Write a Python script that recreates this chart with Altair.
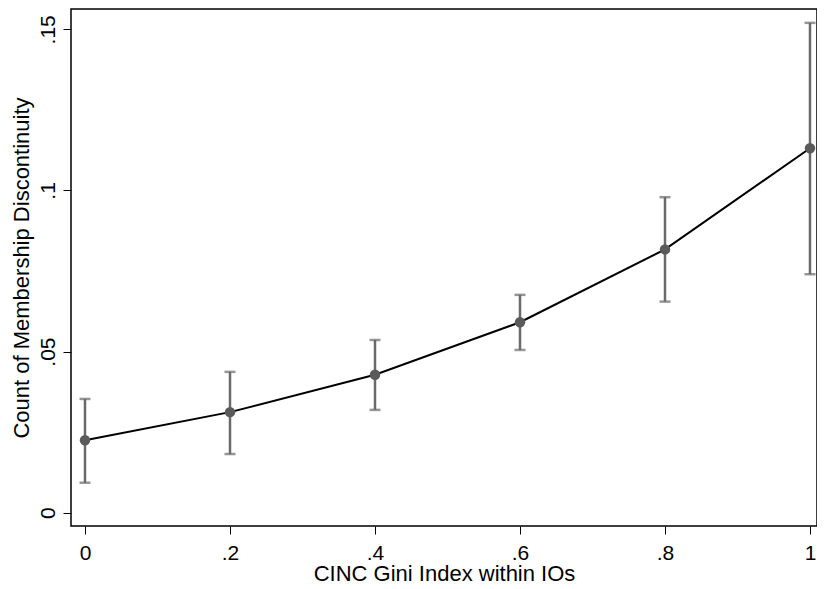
import altair as alt
import pandas as pd

gini = [0.0, 0.2, 0.4, 0.6, 0.8, 1.0]
count = [0.0225, 0.0312, 0.0428, 0.0591, 0.0817, 0.1131]
lower = [0.0093, 0.0182, 0.0319, 0.0505, 0.0655, 0.0740]
upper = [0.0353, 0.0437, 0.0536, 0.0676, 0.0979, 0.1520]

x_ticks = [0, 0.2, 0.4, 0.6, 0.8, 1.0]
y_ticks = [0, 0.05, 0.1, 0.15]

df = pd.DataFrame({"gini": gini, "count": count, "lo": lower, "hi": upper})

FONT = "Liberation Sans"
lab = "datum.value == 0 ? '0' : datum.value == 1 ? '1' : substring(format(datum.value, '.2~f'), 1)"

xscale = alt.Scale(domain=[-0.01931, 1.00966], nice=False, zero=False)
yscale = alt.Scale(domain=[-0.00413, 0.1563], nice=False, zero=False)

xenc = alt.X("gini:Q", scale=xscale, title="CINC Gini Index within IOs",
             axis=alt.Axis(values=x_ticks, labelExpr=lab, grid=False, domain=False,
                           tickSize=8, tickColor="#000000", tickWidth=1,
                           labelFont=FONT, labelFontSize=21, labelColor="#000000",
                           labelBaseline="alphabetic", labelPadding=25,
                           titleFont=FONT, titleFontSize=22, titleFontWeight="normal",
                           titleColor="#000000", titleBaseline="alphabetic", titleY=54))
yenc = alt.Y("count:Q", scale=yscale, title="Count of Membership Discontinuity",
             axis=alt.Axis(values=y_ticks, labelExpr=lab, grid=False, domain=False,
                           tickSize=8, tickColor="#000000", tickWidth=1,
                           labelAngle=270, labelAlign="center", labelBaseline="alphabetic",
                           labelFont=FONT, labelFontSize=21, labelColor="#000000",
                           labelPadding=9, titleFont=FONT, titleFontSize=22,
                           titleFontWeight="normal", titleColor="#000000",
                           titleBaseline="alphabetic", titleX=-43))

base = alt.Chart(df)

bars = base.mark_rule(color="#6a6a6a", strokeWidth=2.5).encode(
    x=xenc, y=alt.Y("lo:Q", scale=yscale), y2="hi:Q")
cap_lo = base.mark_tick(color="#6a6a6a", thickness=2.5, size=11, orient="horizontal").encode(
    x="gini:Q", y="lo:Q")
cap_hi = base.mark_tick(color="#6a6a6a", thickness=2.5, size=11, orient="horizontal").encode(
    x="gini:Q", y="hi:Q")
line = base.mark_line(color="#000000", strokeWidth=2).encode(x="gini:Q", y=yenc)
pts = base.mark_circle(color="#5a5a5a", opacity=1, size=110).encode(x="gini:Q", y="count:Q")

chart = alt.layer(bars, cap_lo, cap_hi, line, pts).properties(
    width=746, height=517,
    autosize=alt.AutoSizeParams(type="none"),
    padding={"left": 63, "top": 1, "right": 0, "bottom": 55},
    background="#ffffff",
).configure_view(stroke="#000000", strokeWidth=1.5)

chart.save("out.html", embed_options={"renderer": "svg", "actions": False})
